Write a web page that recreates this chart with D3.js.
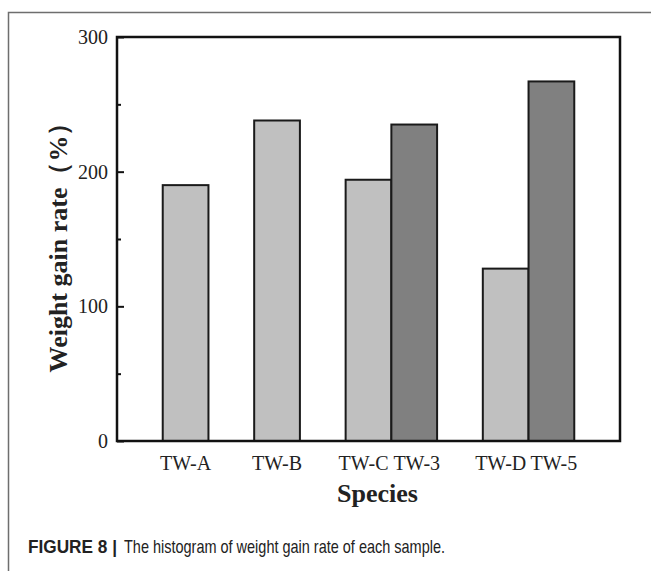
<!DOCTYPE html>
<html>
<head>
<meta charset="utf-8">
<script src="https://cdn.jsdelivr.net/npm/d3@7"></script>
<style>
  html, body { margin: 0; padding: 0; background: #fff; }
  svg { display: block; }
</style>
</head>
<body>
<div id="chart"></div>
<script>
// slot order along x, blanks are the gaps between the groups
var slots = ['gap0', 'TW-A', 'gap1', 'TW-B', 'gap2', 'TW-C', 'TW-3', 'gap3', 'TW-D', 'TW-5', 'gap4'];
var categories = ['TW-A', 'TW-B', 'TW-C', 'TW-3', 'TW-D', 'TW-5'];
var values = [190, 238, 194, 235, 128, 267];
var shade = ['light', 'light', 'light', 'dark', 'light', 'dark'];
var majorTicks = [0, 100, 200, 300];
var minorTicks = [50, 150, 250];

var W = 651, H = 571;
var m = { left: 117, right: 620, top: 37, bottom: 441 };
var serif = '"Liberation Serif", "Times New Roman", Times, serif';
var sans = '"Liberation Sans Narrow", "Liberation Sans", Arial, sans-serif';
var fills = { light: '#c0c0c0', dark: '#808080' };

var svg = d3.select('#chart').append('svg').attr('width', W).attr('height', H);

// figure border (top and left)
svg.append('path')
    .attr('d', 'M8.5,' + H + 'V12.5H' + W)
    .attr('fill', 'none').attr('stroke', '#6e6e6e').attr('stroke-width', 1.5);

var x = d3.scaleBand().domain(slots).range([m.left, m.right]).padding(0);
var y = d3.scaleLinear().domain([0, 300]).range([m.bottom, m.top]);

var bars = categories.map(function(c, i) { return { name: c, value: values[i], shade: shade[i] }; });

svg.append('g').selectAll('rect').data(bars).join('rect')
    .attr('x', function(d) { return x(d.name); })
    .attr('y', function(d) { return y(d.value); })
    .attr('width', x.bandwidth())
    .attr('height', function(d) { return y(0) - y(d.value); })
    .attr('fill', function(d) { return fills[d.shade]; })
    .attr('stroke', '#1a1a1a').attr('stroke-width', 2);

// y axis, ticks point inward
var yAxis = svg.append('g').attr('transform', 'translate(' + m.left + ',0)')
    .call(d3.axisLeft(y).tickValues(majorTicks).tickSizeInner(-7).tickSizeOuter(0).tickPadding(9));
yAxis.select('.domain').remove();
yAxis.selectAll('line').attr('stroke', '#111').attr('stroke-width', 2);
yAxis.selectAll('text').attr('font-family', serif).attr('font-size', 20).attr('fill', '#222');

var yMinor = svg.append('g').attr('transform', 'translate(' + m.left + ',0)')
    .call(d3.axisLeft(y).tickValues(minorTicks).tickSizeInner(-4).tickSizeOuter(0).tickFormat(''));
yMinor.select('.domain').remove();
yMinor.selectAll('line').attr('stroke', '#111').attr('stroke-width', 2);

// x labels; paired labels are nudged apart a little, as in the original
var xAxis = svg.append('g').attr('transform', 'translate(0,' + m.bottom + ')')
    .call(d3.axisBottom(x).tickValues(categories).tickSize(0).tickPadding(15));
xAxis.select('.domain').remove();
xAxis.selectAll('text').attr('font-family', serif).attr('font-size', 20).attr('fill', '#222')
    .attr('dx', function(d) {
        var prev = slots[slots.indexOf(d) - 1], next = slots[slots.indexOf(d) + 1];
        if (categories.indexOf(next) >= 0) return -5;
        if (categories.indexOf(prev) >= 0) return 2.5;
        return 0;
    });

// plot frame
svg.append('rect')
    .attr('x', m.left).attr('y', m.top)
    .attr('width', m.right - m.left).attr('height', m.bottom - m.top)
    .attr('fill', 'none').attr('stroke', '#111').attr('stroke-width', 2.5);

// axis titles
svg.append('text')
    .attr('transform', 'translate(67,' + ((m.top + m.bottom) / 2 + 2) + ') rotate(-90)')
    .attr('text-anchor', 'middle')
    .attr('font-family', serif).attr('font-weight', 'bold').attr('font-size', 26).attr('fill', '#222')
    .text('Weight gain rate（%）');

svg.append('text')
    .attr('x', (m.left + m.right) / 2 + 9).attr('y', 502)
    .attr('text-anchor', 'middle')
    .attr('font-family', serif).attr('font-weight', 'bold').attr('font-size', 26).attr('fill', '#222')
    .text('Species');

// caption
svg.append('text')
    .attr('x', 28).attr('y', 553)
    .attr('font-family', sans).attr('font-weight', 'bold')
    .attr('font-size', 19).attr('fill', '#222')
    .attr('textLength', 89).attr('lengthAdjust', 'spacingAndGlyphs')
    .text('FIGURE 8 |');
svg.append('text')
    .attr('x', 124).attr('y', 553)
    .attr('font-family', sans)
    .attr('font-size', 19).attr('fill', '#222')
    .attr('textLength', 321).attr('lengthAdjust', 'spacingAndGlyphs')
    .text('The histogram of weight gain rate of each sample.');
</script>
</body>
</html>
